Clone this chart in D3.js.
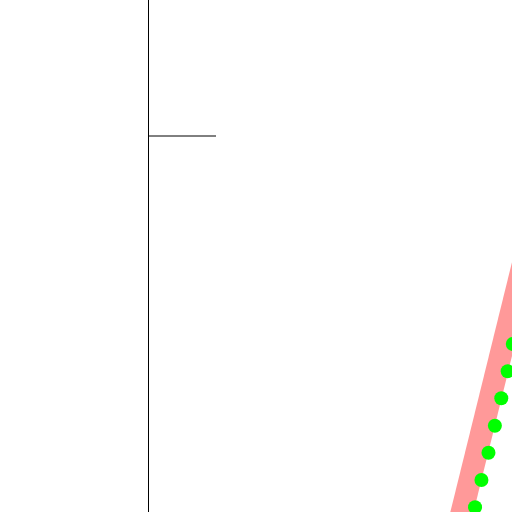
<!DOCTYPE html>
<html>
<head>
<meta charset="utf-8">
<script src="https://cdn.jsdelivr.net/npm/d3@7"></script>
<style>
  body { margin: 0; background: #fff; overflow: hidden; }
  svg { display: block; }
</style>
</head>
<body>
<div id="vis-container"></div>
<script>
// dot series
var dotX = [51.1, 52.1, 53.2, 54.2, 55.2, 56.2, 57.0];
var dotY = [3.6, 13.6, 23.6, 33.5, 43.6, 53.5, 63.5];
// thick band line end points
var bandX = [47.2, 61.1];
var bandY = [-15.8, 116.5];
// y axis tick values
var yTicks = [140];

var width = 512, height = 512;

var x = d3.scaleLinear()
    .domain([0, 60])
    .range([148, 532]);
var y = d3.scaleLinear()
    .domain([-20, 200])
    .range([571.5, -28]);

var svg = d3.select("#vis-container").append("svg")
    .attr("width", width)
    .attr("height", height);

// y axis with a single long tick, no labels
var axis = svg.append("g")
    .attr("transform", "translate(" + x(0) + ",0)")
    .call(d3.axisRight(y)
        .tickValues(yTicks)
        .tickSize(68)
        .tickSizeOuter(0)
        .tickFormat(""));
axis.select(".domain").attr("stroke", "#000");
axis.selectAll(".tick line").attr("stroke", "#000");

// band
var bandData = bandX.map(function(d, i) { return {x: d, y: bandY[i]}; });
var line = d3.line()
    .x(function(d) { return x(d.x); })
    .y(function(d) { return y(d.y); });
svg.append("path")
    .datum(bandData)
    .attr("d", line)
    .attr("fill", "none")
    .attr("stroke", "#ff9999")
    .attr("stroke-width", 22.5);

// dots
var dots = dotX.map(function(d, i) { return {x: d, y: dotY[i]}; });
svg.selectAll("circle.dot")
    .data(dots)
    .enter().append("circle")
    .attr("class", "dot")
    .attr("cx", function(d) { return x(d.x); })
    .attr("cy", function(d) { return y(d.y); })
    .attr("r", 7)
    .attr("fill", "#00ff00");
</script>
</body>
</html>
